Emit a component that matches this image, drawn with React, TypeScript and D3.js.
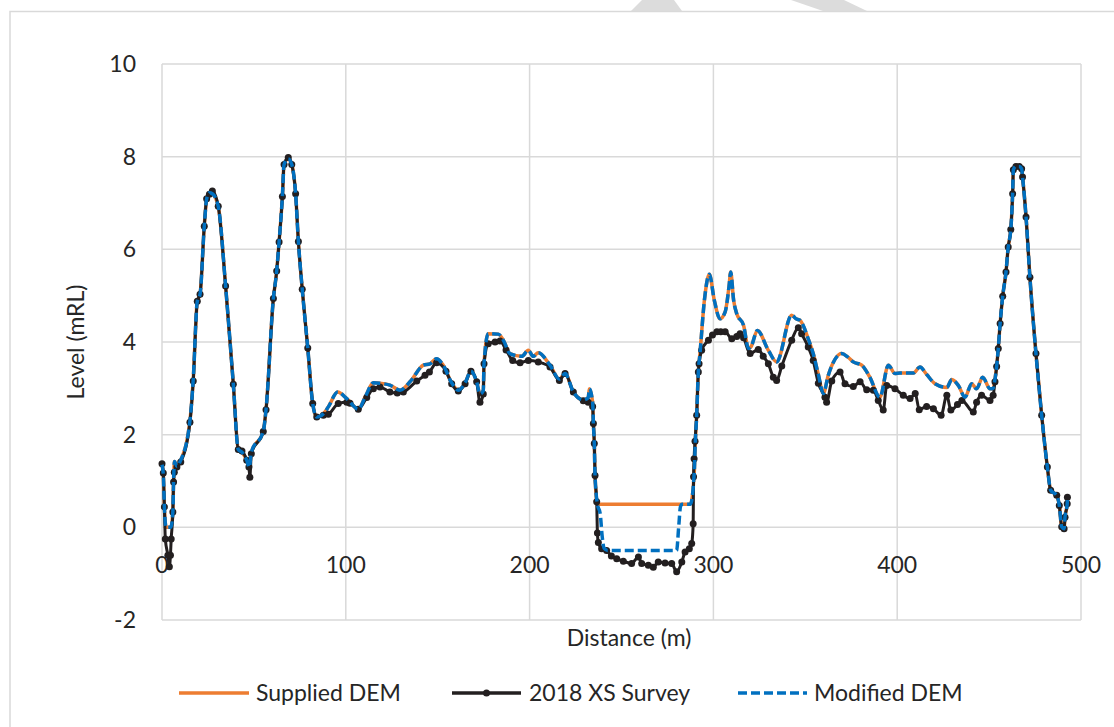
import React from "react";
import * as d3 from "d3";

// ---------- data ----------
const xTicks = [0, 100, 200, 300, 400, 500];
const yTicks = [-2, 0, 2, 4, 6, 8, 10];
const seriesNames = ["Supplied DEM", "2018 XS Survey", "Modified DEM"];

// 2018 XS Survey: [distance (m), level (mRL)]
const surveyPoints: [number, number][] = [
  [0, 1.37], [0.7, 1.17], [1.3, 0.44], [1.8, -0.25], [3.2, -0.6], [4.0, -0.85], [4.6, -0.6],
  [5.0, -0.25], [5.9, 0.33], [6.3, 0.98], [6.7, 1.19], [8.1, 1.3], [10.2, 1.41], [15.2, 2.27],
  [17.0, 3.16], [19.2, 4.88], [20.7, 5.03], [23.0, 6.5], [24.3, 7.09], [25.8, 7.19], [27.4, 7.26],
  [30.6, 6.93], [34.6, 5.21], [38.8, 3.09], [41.5, 1.68], [43.5, 1.65], [46.1, 1.45], [47.3, 1.3],
  [47.8, 1.08], [48.6, 1.59], [55.1, 2.07], [56.6, 2.54], [60.6, 4.94], [62.4, 5.53], [63.7, 6.16],
  [65.5, 7.14], [66.4, 7.83], [68.7, 7.98], [70.6, 7.83], [72.7, 7.2], [74.2, 6.17], [76.3, 5.14],
  [79.3, 3.87], [82.0, 2.67], [84.2, 2.38], [87.8, 2.42], [90.5, 2.44], [95.9, 2.67], [100.5, 2.7],
  [102.3, 2.68], [106.8, 2.55], [111.4, 2.8], [115, 2.99], [118.6, 3.03], [124, 2.92], [128, 2.9],
  [131.3, 2.92], [138.6, 3.16], [143.1, 3.28], [145.5, 3.35], [149.4, 3.55], [154.5, 3.37],
  [157.6, 3.1], [161.2, 2.94], [164.9, 3.1], [168.1, 3.37], [171.2, 3.14], [173, 2.7], [174.8, 2.88],
  [175.2, 3.53], [177.5, 3.96], [181.2, 4.0], [183.9, 4.02], [187.2, 3.83], [190.8, 3.6],
  [194.8, 3.55], [199.3, 3.6], [204.7, 3.57], [211.1, 3.46], [216.2, 3.17], [219.3, 3.32],
  [223.8, 2.92], [229.2, 2.73], [231.9, 2.7], [234.3, 2.61], [234.7, 2.24], [235.2, 1.81],
  [235.6, 1.12], [236.5, 0.55], [236.9, -0.12], [237.4, -0.33], [239.2, -0.46], [241.9, -0.5],
  [244.5, -0.62], [247.4, -0.68], [251, -0.73], [255.5, -0.78], [259.2, -0.64], [261, -0.78],
  [264.6, -0.82], [267.3, -0.86], [270, -0.75], [273.7, -0.77], [277.3, -0.78], [280, -0.96],
  [282.8, -0.75], [284.6, -0.53], [286.9, -0.46], [288.2, -0.35], [289.0, 0.08], [289.2, 1.09],
  [289.5, 1.48], [290, 1.86], [290.9, 2.42], [291.8, 3.35], [292.2, 3.53], [293.6, 3.82],
  [297.3, 4.04], [299.5, 4.15], [301.9, 4.22], [304, 4.22], [306.4, 4.22], [310, 4.07],
  [312.7, 4.12], [314.5, 4.18], [316.4, 4.09], [320, 3.75], [324.4, 3.84], [327.1, 3.69],
  [329.9, 3.53], [332.6, 3.24], [334.4, 3.17], [337.2, 3.48], [342.6, 4.04], [346.2, 4.31],
  [348, 4.18], [351.6, 3.89], [354.3, 3.6], [357.1, 3.11], [360.7, 2.81], [361.6, 2.7],
  [364.4, 3.16], [368.9, 3.35], [371.6, 3.1], [376.1, 3.04], [379.8, 3.14], [383.4, 2.97],
  [387, 2.96], [389.7, 2.74], [392.4, 2.53], [394.3, 3.06], [398.8, 2.99], [403.3, 2.85],
  [407, 2.78], [409.8, 2.89], [412, 2.54], [416, 2.61], [419.7, 2.56], [423.9, 2.42], [427, 2.85],
  [429.2, 2.53], [432.8, 2.65], [435.2, 2.74], [441.4, 2.49], [443.2, 2.7], [445.9, 2.85],
  [450.5, 2.74], [452.2, 2.85], [453.2, 3.14], [454.1, 3.47], [455, 3.86], [456, 4.4],
  [457.4, 4.99], [459.2, 5.51], [460.4, 6.05], [461.8, 6.43], [462.8, 7.2], [463.2, 7.72],
  [464.6, 7.79], [466.4, 7.79], [467.7, 7.74], [468.2, 7.56], [470.1, 6.7], [472.2, 5.4],
  [475.5, 3.75], [478.6, 2.42], [481.7, 1.3], [483.5, 0.8], [486.8, 0.69], [488.2, 0.47],
  [489.5, 0.01], [490.8, -0.03], [491.3, 0.22], [492.5, 0.51], [492.6, 0.65],
];

// DEM left of the channel (shared by Supplied and Modified DEM)
const demLeft: [number, number][] = [
  [0, 1.35], [0.7, 1.15], [1.3, 0.44], [2.2, 0.0], [4.8, 0.0], [5.9, 0.33], [6.3, 1.0],
  [6.8, 1.42], [8.1, 1.32], [10.2, 1.45], [15.2, 2.3], [17, 3.2], [19.2, 4.88], [20.7, 5.03],
  [23, 6.5], [24.3, 7.09], [25.8, 7.22], [27.4, 7.2], [30.6, 6.93], [34.6, 5.21], [38.8, 3.09],
  [41.5, 1.68], [43.5, 1.62], [46.1, 1.45], [47.5, 1.3], [48.6, 1.62], [55.1, 2.07], [56.6, 2.54],
  [60.6, 4.94], [62.4, 5.53], [63.7, 6.16], [65.5, 7.14], [66.4, 7.83], [68.7, 7.95], [70.6, 7.83],
  [72.7, 7.2], [74.2, 6.17], [76.3, 5.14], [79.3, 3.87], [82, 2.67], [84.2, 2.38], [87.8, 2.45],
  [90.5, 2.6], [95.6, 2.92], [100.5, 2.78], [106.8, 2.55], [110.6, 2.82], [115, 3.12],
  [120.4, 3.1], [124, 3.07], [129.5, 2.96], [134.9, 3.14], [142.2, 3.5], [145.8, 3.53],
  [149.4, 3.64], [153, 3.5], [157.6, 3.12], [161.2, 2.96], [164.9, 3.12], [168.1, 3.37],
  [171.2, 3.14], [173, 2.88], [174.8, 2.95], [175.2, 3.53], [177.5, 4.18], [183, 4.17],
  [185.7, 4.04], [189.3, 3.75], [195.7, 3.69], [199.3, 3.82], [202, 3.69], [204.7, 3.77],
  [211.1, 3.5], [216.2, 3.2], [219.3, 3.32], [223.8, 2.92], [229.2, 2.75], [231.9, 2.8],
  [232.5, 2.99], [234.3, 2.7], [234.7, 2.24], [235.2, 1.81], [235.6, 1.12], [236.9, 0.5],
];

// channel section of the Supplied DEM
const suppliedChannel: [number, number][] = [[287.5, 0.5]];

// channel section of the Modified DEM
const modifiedChannel: [number, number][] = [
  [238.4, 0.3], [239.5, -0.2], [240.5, -0.45], [242.5, -0.5], [280, -0.5], [281.1, 0.0],
  [282.1, 0.45], [283, 0.5], [287.5, 0.5],
];

// DEM right of the channel (shared)
const demRight: [number, number][] = [
  [289.6, 1.2], [290.2, 1.86], [290.9, 2.42], [291.8, 3.35], [292.7, 3.75], [295.1, 4.9],
  [297.8, 5.46], [300.5, 4.9], [303.6, 4.5], [306.4, 4.65], [308.5, 5.2], [309.4, 5.51],
  [311, 4.9], [312.7, 4.61], [316.4, 4.36], [319.1, 3.86], [320.5, 3.9], [323.9, 4.25],
  [329.9, 3.82], [334.4, 3.57], [342.6, 4.58], [345, 4.5], [347.1, 4.47], [351.6, 4.07],
  [354.3, 3.75], [357.1, 3.3], [359.8, 2.89], [362.5, 3.28], [369.8, 3.75], [373, 3.68],
  [376.1, 3.57], [380.7, 3.5], [385, 3.25], [390.6, 2.81], [395.2, 3.5], [398.8, 3.32],
  [401.5, 3.33], [408.8, 3.33], [412.4, 3.46], [416, 3.3], [420.6, 3.1], [427, 3.02],
  [429.7, 3.19], [433.3, 3.06], [436.9, 2.81], [440.5, 3.1], [443.2, 2.99], [446.5, 3.24],
  [450.5, 2.99], [452.2, 3.0], [453.2, 3.2], [454.1, 3.47], [455, 3.86], [456, 4.4],
  [457.4, 4.99], [459.2, 5.51], [460.4, 6.05], [461.8, 6.43], [462.8, 7.2], [463.2, 7.72],
  [464.6, 7.79], [466.4, 7.79], [467.7, 7.74], [468.2, 7.56], [470.1, 6.7], [472.2, 5.4],
  [475.5, 3.75], [478.6, 2.42], [481.7, 1.3], [483.5, 0.8], [486.8, 0.69], [488.2, 0.47],
  [489.5, 0.01], [490.8, -0.03], [491.3, 0.22], [492.5, 0.51], [492.6, 0.62],
];

const suppliedDem = [...demLeft, ...suppliedChannel, ...demRight];
const modifiedDem = [...demLeft, ...modifiedChannel, ...demRight];

// ---------- styling ----------
const W = 1114;
const H = 727;
const plot = { left: 162, right: 1081, top: 64, bottom: 620 };
const FONT = "Lato, 'Open Sans', sans-serif";
const TEXT = "#262626";
const GRID = "#D9D9D9";
const ORANGE = "#ED7D31";
const BLACK = "#231F20";
const BLUE = "#0070C0";

export default function App() {
  const x = d3.scaleLinear().domain([0, 500]).range([plot.left, plot.right]);
  const y = d3.scaleLinear().domain([-2, 10]).range([plot.bottom, plot.top]);
  const line = d3
    .line<[number, number]>()
    .x((d) => x(d[0]))
    .y((d) => y(d[1]))
    .curve(d3.curveMonotoneX);

  const legendY = 693;
  const legend = [
    { x1: 179, x2: 249, tx: 256, color: ORANGE, dash: undefined as string | undefined, marker: false },
    { x1: 452, x2: 521, tx: 529, color: BLACK, dash: undefined, marker: true },
    { x1: 738, x2: 807, tx: 814, color: BLUE, dash: "9,4", marker: false },
  ];

  return (
    <svg
      width={W}
      height={H}
      style={{ position: "absolute", left: 0, top: 0, background: "#fff" }}
      fontFamily={FONT}
    >
      <rect x={0} y={0} width={W} height={H} fill="#fff" />
      {/* page watermark fragments */}
      <polygon points="642,0 674,0 682,11 631,11" fill="#DCDCDC" />
      <polygon points="791,0 844,0 867,11 823,11" fill="#DCDCDC" />
      {/* chart border */}
      <rect x={10} y={11.5} width={W + 20} height={H + 20} fill="none" stroke={GRID} strokeWidth={1.5} />

      {/* gridlines */}
      {yTicks.map((t) => (
        <line key={"gy" + t} x1={plot.left} x2={plot.right} y1={y(t)} y2={y(t)} stroke={GRID} strokeWidth={1.5} />
      ))}
      {xTicks.map((t) => (
        <line key={"gx" + t} x1={x(t)} x2={x(t)} y1={plot.top} y2={plot.bottom} stroke={GRID} strokeWidth={1.5} />
      ))}

      {/* tick labels */}
      {yTicks.map((t) => (
        <text key={"ty" + t} x={136} y={y(t)} dy="0.35em" textAnchor="end" fontSize={23} fill={TEXT}>
          {t}
        </text>
      ))}
      {xTicks.map((t) => (
        <text key={"tx" + t} x={x(t)} y={y(0) + 38} dy="0.35em" textAnchor="middle" fontSize={23} fill={TEXT}>
          {t}
        </text>
      ))}

      {/* axis titles */}
      <text x={629} y={638} dy="0.35em" textAnchor="middle" fontSize={23} fill={TEXT}>
        Distance (m)
      </text>
      <text
        transform={`translate(76, ${(plot.top + plot.bottom) / 2}) rotate(-90)`}
        dy="0.35em"
        textAnchor="middle"
        fontSize={23}
        fill={TEXT}
      >
        Level (mRL)
      </text>

      {/* series */}
      <path d={line(suppliedDem) || ""} fill="none" stroke={ORANGE} strokeWidth={3.5} strokeLinejoin="round" />
      <path d={line(surveyPoints) || ""} fill="none" stroke={BLACK} strokeWidth={3} strokeLinejoin="round" />
      {surveyPoints.map((p, i) => (
        <circle key={"m" + i} cx={x(p[0])} cy={y(p[1])} r={3.5} fill={BLACK} />
      ))}
      <path
        d={line(modifiedDem) || ""}
        fill="none"
        stroke={BLUE}
        strokeWidth={3.5}
        strokeDasharray="9,4"
        strokeLinejoin="round"
      />

      {/* legend */}
      {legend.map((l, i) => (
        <g key={"lg" + i}>
          <line x1={l.x1} x2={l.x2} y1={legendY} y2={legendY} stroke={l.color} strokeWidth={3.5} strokeDasharray={l.dash} />
          {l.marker && <circle cx={(l.x1 + l.x2) / 2} cy={legendY} r={3.5} fill={l.color} />}
          <text x={l.tx} y={legendY} dy="0.35em" fontSize={23} fill={TEXT}>
            {seriesNames[i]}
          </text>
        </g>
      ))}
    </svg>
  );
}
